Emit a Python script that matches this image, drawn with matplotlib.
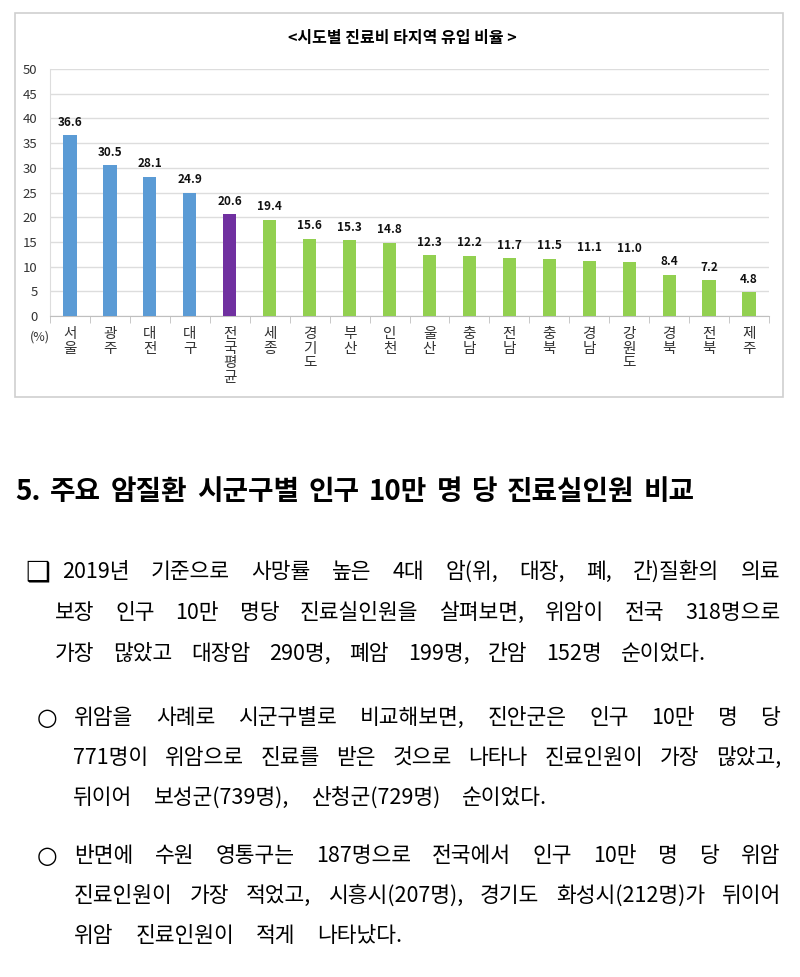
import matplotlib
matplotlib.use('Agg')
import matplotlib.pyplot as plt
from matplotlib.patches import Rectangle

FONT = ['Noto Sans CJK KR', 'DejaVu Sans']
plt.rcParams['font.family'] = FONT

# chart data
regions = ['서울', '광주', '대전', '대구', '전국평균', '세종', '경기도', '부산', '인천',
           '울산', '충남', '전남', '충북', '경남', '강원도', '경북', '전북', '제주']
rates = [36.6, 30.5, 28.1, 24.9, 20.6, 19.4, 15.6, 15.3, 14.8,
         12.3, 12.2, 11.7, 11.5, 11.1, 11.0, 8.4, 7.2, 4.8]
national_avg = 20.6
yticks = [0, 5, 10, 15, 20, 25, 30, 35, 40, 45, 50]
chart_title = '<시도별 진료비 타지역 유입 비율 >'

# document text
heading = '5. 주요 암질환 시군구별 인구 10만 명 당 진료실인원 비교'
para1 = ['2019년 기준으로 사망률 높은 4대 암(위, 대장, 폐, 간)질환의 의료',
         '보장 인구 10만 명당 진료실인원을 살펴보면, 위암이 전국 318명으로',
         '가장 많았고 대장암 290명, 폐암 199명, 간암 152명 순이었다.']
para2 = ['위암을 사례로 시군구별로 비교해보면, 진안군은 인구 10만 명 당',
         '771명이 위암으로 진료를 받은 것으로 나타나 진료인원이 가장 많았고,',
         '뒤이어 보성군(739명), 산청군(729명) 순이었다.']
para3 = ['반면에 수원 영통구는 187명으로 전국에서 인구 10만 명 당 위암',
         '진료인원이 가장 적었고, 시흥시(207명), 경기도 화성시(212명)가 뒤이어',
         '위암 진료인원이 적게 나타났다.']

W, H = 800, 977
fig = plt.figure(figsize=(W / 100, H / 100), dpi=100)
fig.patch.set_facecolor('white')

# page layer in pixel coordinates
bg = fig.add_axes([0, 0, 1, 1], zorder=0)
bg.set_xlim(0, W)
bg.set_ylim(H, 0)
bg.axis('off')
bg.add_patch(Rectangle((15, 13), 768, 384, fill=False, edgecolor='#CFCFCF', lw=1.2))
bg.text(402, 38, chart_title, ha='center', va='center', fontsize=11.5, fontweight='bold')
bg.text(40, 337, '(%)', ha='center', va='center', fontsize=9, color='#333333')

# bar chart
ax = fig.add_axes([50 / W, 1 - 316 / H, 719 / W, (316 - 69) / H], zorder=1)
ax.patch.set_alpha(0)
colors = []
for v in rates:
    if v > national_avg:
        colors.append('#5B9BD5')
    elif v == national_avg:
        colors.append('#7030A0')
    else:
        colors.append('#92D050')
x = list(range(len(regions)))
bars = ax.bar(x, rates, width=0.33, color=colors, zorder=3)
for b, v in zip(bars, rates):
    ax.annotate(f'{v:.1f}', (b.get_x() + b.get_width() / 2, v), xytext=(0, 9.5),
                textcoords='offset points', ha='center', va='center',
                fontsize=8.5, fontweight='bold', color='#111111')

ax.set_xlim(-0.5, len(regions) - 0.5)
ax.set_ylim(0, 50)
ax.set_yticks(yticks)
ax.yaxis.grid(True, color='#DDDDDD', lw=1)
ax.set_axisbelow(True)
for s in ['top', 'right']:
    ax.spines[s].set_visible(False)
ax.spines['left'].set_color('#DDDDDD')
ax.spines['bottom'].set_color('#BFBFBF')
ax.tick_params(axis='y', length=0, pad=9, labelsize=9.5, labelcolor='#333333')
ax.set_xticks(x)
ax.set_xticklabels(['\n'.join(r) for r in regions], fontsize=10.5, linespacing=1.05,
                   color='#333333', va='top')
ax.tick_params(axis='x', length=0, pad=8)
ax.set_xticks([i - 0.5 for i in range(len(regions) + 1)], minor=True)
ax.tick_params(axis='x', which='minor', length=5, color='#BFBFBF')

# text block
renderer = fig.canvas.get_renderer()


def put_line(text, y, x0, x1, size, weight='normal'):
    words = text.split(' ')
    objs = [bg.text(0, y, w, fontsize=size, fontweight=weight, va='center', ha='left',
                    color='black') for w in words]
    widths = [o.get_window_extent(renderer).width for o in objs]
    gap = (x1 - x0 - sum(widths)) / max(len(words) - 1, 1)
    pos = x0
    for o, w in zip(objs, widths):
        o.set_x(pos)
        pos += w + gap


BODY = 15.5
put_line(heading, 492, 15, 695, 20, weight='heavy')

bg.text(38, 572, '❑', family=['DejaVu Sans'], fontsize=20, ha='center', va='center')
put_line(para1[0], 572, 62, 780, BODY)
put_line(para1[1], 613, 55, 780, BODY)
put_line(para1[2], 654, 55, 706, BODY)

bg.text(47, 718, '○', family=['DejaVu Sans'], fontsize=17, ha='center', va='center')
put_line(para2[0], 718, 74, 780, BODY)
put_line(para2[1], 758, 73, 781, BODY)
put_line(para2[2], 798, 73, 547, BODY)

bg.text(47, 856, '○', family=['DejaVu Sans'], fontsize=17, ha='center', va='center')
put_line(para3[0], 856, 74, 780, BODY)
put_line(para3[1], 896, 74, 781, BODY)
put_line(para3[2], 936, 74, 402, BODY)

fig.savefig('out.png', dpi=100, facecolor='white')
